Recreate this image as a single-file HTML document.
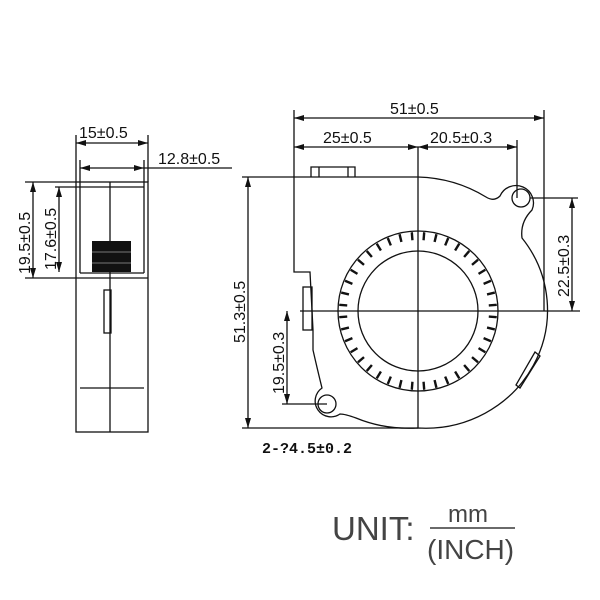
<!DOCTYPE html>
<html><head><style>html,body{margin:0;padding:0;background:#fff}svg{display:block}</style></head>
<body>
<svg width="600" height="600" viewBox="0 0 600 600" xmlns="http://www.w3.org/2000/svg" font-family="Liberation Sans, sans-serif">
<defs>
<marker id="a" markerWidth="10" markerHeight="6" refX="10" refY="3" orient="auto-start-reverse" markerUnits="userSpaceOnUse"><path d="M0,0 L10,3 L0,6 z" fill="#111"/></marker>
<line id="t" x1="489" y1="311" x2="497" y2="311" stroke="#111" stroke-width="2.4"/>
</defs>
<g stroke="#111" stroke-width="1.3" fill="none">
<rect x="76" y="182" width="72" height="250"/>
<line x1="80" y1="187" x2="80" y2="273"/><line x1="144" y1="187" x2="144" y2="273"/>
<line x1="80" y1="273" x2="144" y2="273"/>
<line x1="25" y1="278" x2="148" y2="278"/>
<line x1="25" y1="182" x2="76" y2="182"/>
<line x1="55" y1="187" x2="144" y2="187"/>
<line x1="110" y1="182" x2="110" y2="432"/>
<rect x="104" y="290" width="7" height="43"/>
<line x1="80" y1="388" x2="144" y2="388"/>
<line x1="76" y1="135" x2="76" y2="182"/><line x1="148" y1="135" x2="148" y2="182"/>
<line x1="76" y1="143" x2="148" y2="143" marker-start="url(#a)" marker-end="url(#a)"/>
<line x1="80" y1="160" x2="80" y2="187"/><line x1="144" y1="160" x2="144" y2="187"/>
<line x1="80" y1="168" x2="144" y2="168" marker-start="url(#a)" marker-end="url(#a)"/>
<line x1="144" y1="168" x2="232" y2="168"/>
<line x1="33" y1="182" x2="33" y2="278" marker-start="url(#a)" marker-end="url(#a)"/>
<line x1="59" y1="187" x2="59" y2="272" marker-start="url(#a)" marker-end="url(#a)"/>
<path d="M294,177 L418,177 Q455,178 486,197 Q494,202 500,196 A15,15 0 1 1 532,210 Q520,222 522,238 A122,118 0 0 1 418,428 Q385,430 356,418 Q345,414 340,414 A15,15 0 1 1 322,388 Q318,372 313,350 L313,330 L310,272 L294,272 Z"/>
<circle cx="521" cy="198" r="9"/>
<circle cx="327" cy="404" r="9"/>
<path d="M311,177 L311,167 L355,167 L355,177 M319,167 L319,177 M348,167 L348,177"/>
<rect x="303" y="287" width="9" height="43"/>
<path d="M520,388 L540,356 L535,352 L516,385 Z"/>
<circle cx="418" cy="311" r="80"/>
<circle cx="418" cy="311" r="60"/>
<line x1="418" y1="147" x2="418" y2="428"/>
<line x1="300" y1="311" x2="580" y2="311"/>
<line x1="294" y1="110" x2="294" y2="177"/><line x1="544" y1="110" x2="544" y2="311"/>
<line x1="294" y1="118" x2="544" y2="118" marker-start="url(#a)" marker-end="url(#a)"/>
<line x1="294" y1="147" x2="418" y2="147" marker-start="url(#a)" marker-end="url(#a)"/>
<line x1="418" y1="147" x2="517" y2="147" marker-start="url(#a)" marker-end="url(#a)"/>
<line x1="517" y1="140" x2="517" y2="198"/>
<line x1="242" y1="177" x2="294" y2="177"/><line x1="242" y1="428" x2="418" y2="428"/>
<line x1="248" y1="177" x2="248" y2="428" marker-start="url(#a)" marker-end="url(#a)"/>
<line x1="530" y1="198" x2="578" y2="198"/>
<line x1="572" y1="198" x2="572" y2="311" marker-start="url(#a)" marker-end="url(#a)"/>
<line x1="282" y1="404" x2="327" y2="404"/>
<line x1="287" y1="311" x2="287" y2="404" marker-start="url(#a)" marker-end="url(#a)"/>
<line x1="430" y1="528" x2="515" y2="528"/>
</g>
<rect x="92" y="241" width="39" height="31" fill="#111"/>
<line x1="92" y1="252" x2="131" y2="252" stroke="#777"/><line x1="92" y1="263" x2="131" y2="263" stroke="#777"/>
<g>
<use href="#t" transform="rotate(4.5 418 311)"/><use href="#t" transform="rotate(13.5 418 311)"/>
<use href="#t" transform="rotate(22.5 418 311)"/><use href="#t" transform="rotate(31.5 418 311)"/>
<use href="#t" transform="rotate(40.5 418 311)"/><use href="#t" transform="rotate(49.5 418 311)"/>
<use href="#t" transform="rotate(58.5 418 311)"/><use href="#t" transform="rotate(67.5 418 311)"/>
<use href="#t" transform="rotate(76.5 418 311)"/><use href="#t" transform="rotate(85.5 418 311)"/>
<use href="#t" transform="rotate(94.5 418 311)"/><use href="#t" transform="rotate(103.5 418 311)"/>
<use href="#t" transform="rotate(112.5 418 311)"/><use href="#t" transform="rotate(121.5 418 311)"/>
<use href="#t" transform="rotate(130.5 418 311)"/><use href="#t" transform="rotate(139.5 418 311)"/>
<use href="#t" transform="rotate(148.5 418 311)"/><use href="#t" transform="rotate(157.5 418 311)"/>
<use href="#t" transform="rotate(166.5 418 311)"/><use href="#t" transform="rotate(175.5 418 311)"/>
<use href="#t" transform="rotate(184.5 418 311)"/><use href="#t" transform="rotate(193.5 418 311)"/>
<use href="#t" transform="rotate(202.5 418 311)"/><use href="#t" transform="rotate(211.5 418 311)"/>
<use href="#t" transform="rotate(220.5 418 311)"/><use href="#t" transform="rotate(229.5 418 311)"/>
<use href="#t" transform="rotate(238.5 418 311)"/><use href="#t" transform="rotate(247.5 418 311)"/>
<use href="#t" transform="rotate(256.5 418 311)"/><use href="#t" transform="rotate(265.5 418 311)"/>
<use href="#t" transform="rotate(274.5 418 311)"/><use href="#t" transform="rotate(283.5 418 311)"/>
<use href="#t" transform="rotate(292.5 418 311)"/><use href="#t" transform="rotate(301.5 418 311)"/>
<use href="#t" transform="rotate(310.5 418 311)"/><use href="#t" transform="rotate(319.5 418 311)"/>
<use href="#t" transform="rotate(328.5 418 311)"/><use href="#t" transform="rotate(337.5 418 311)"/>
<use href="#t" transform="rotate(346.5 418 311)"/><use href="#t" transform="rotate(355.5 418 311)"/>
</g>
<g fill="#111" font-size="16">
<text x="79" y="138">15±0.5</text>
<text x="158" y="164">12.8±0.5</text>
<text x="323" y="143">25±0.5</text>
<text x="430" y="143">20.5±0.3</text>
<text x="390" y="114">51±0.5</text>
<text transform="translate(30,274) rotate(-90)">19.5±0.5</text>
<text transform="translate(56,270) rotate(-90)">17.6±0.5</text>
<text transform="translate(245,343) rotate(-90)">51.3±0.5</text>
<text transform="translate(569,297) rotate(-90)">22.5±0.3</text>
<text transform="translate(284,394) rotate(-90)">19.5±0.3</text>
<text x="262" y="453" font-family="Liberation Mono, monospace" font-weight="bold" font-size="15">2-?4.5±0.2</text>
</g>
<g fill="#444">
<text x="332" y="540" font-size="33">UNIT:</text>
<text x="448" y="522" font-size="24">mm</text>
<text x="427" y="559" font-size="28">(INCH)</text>
</g>
</svg>
</body></html>
